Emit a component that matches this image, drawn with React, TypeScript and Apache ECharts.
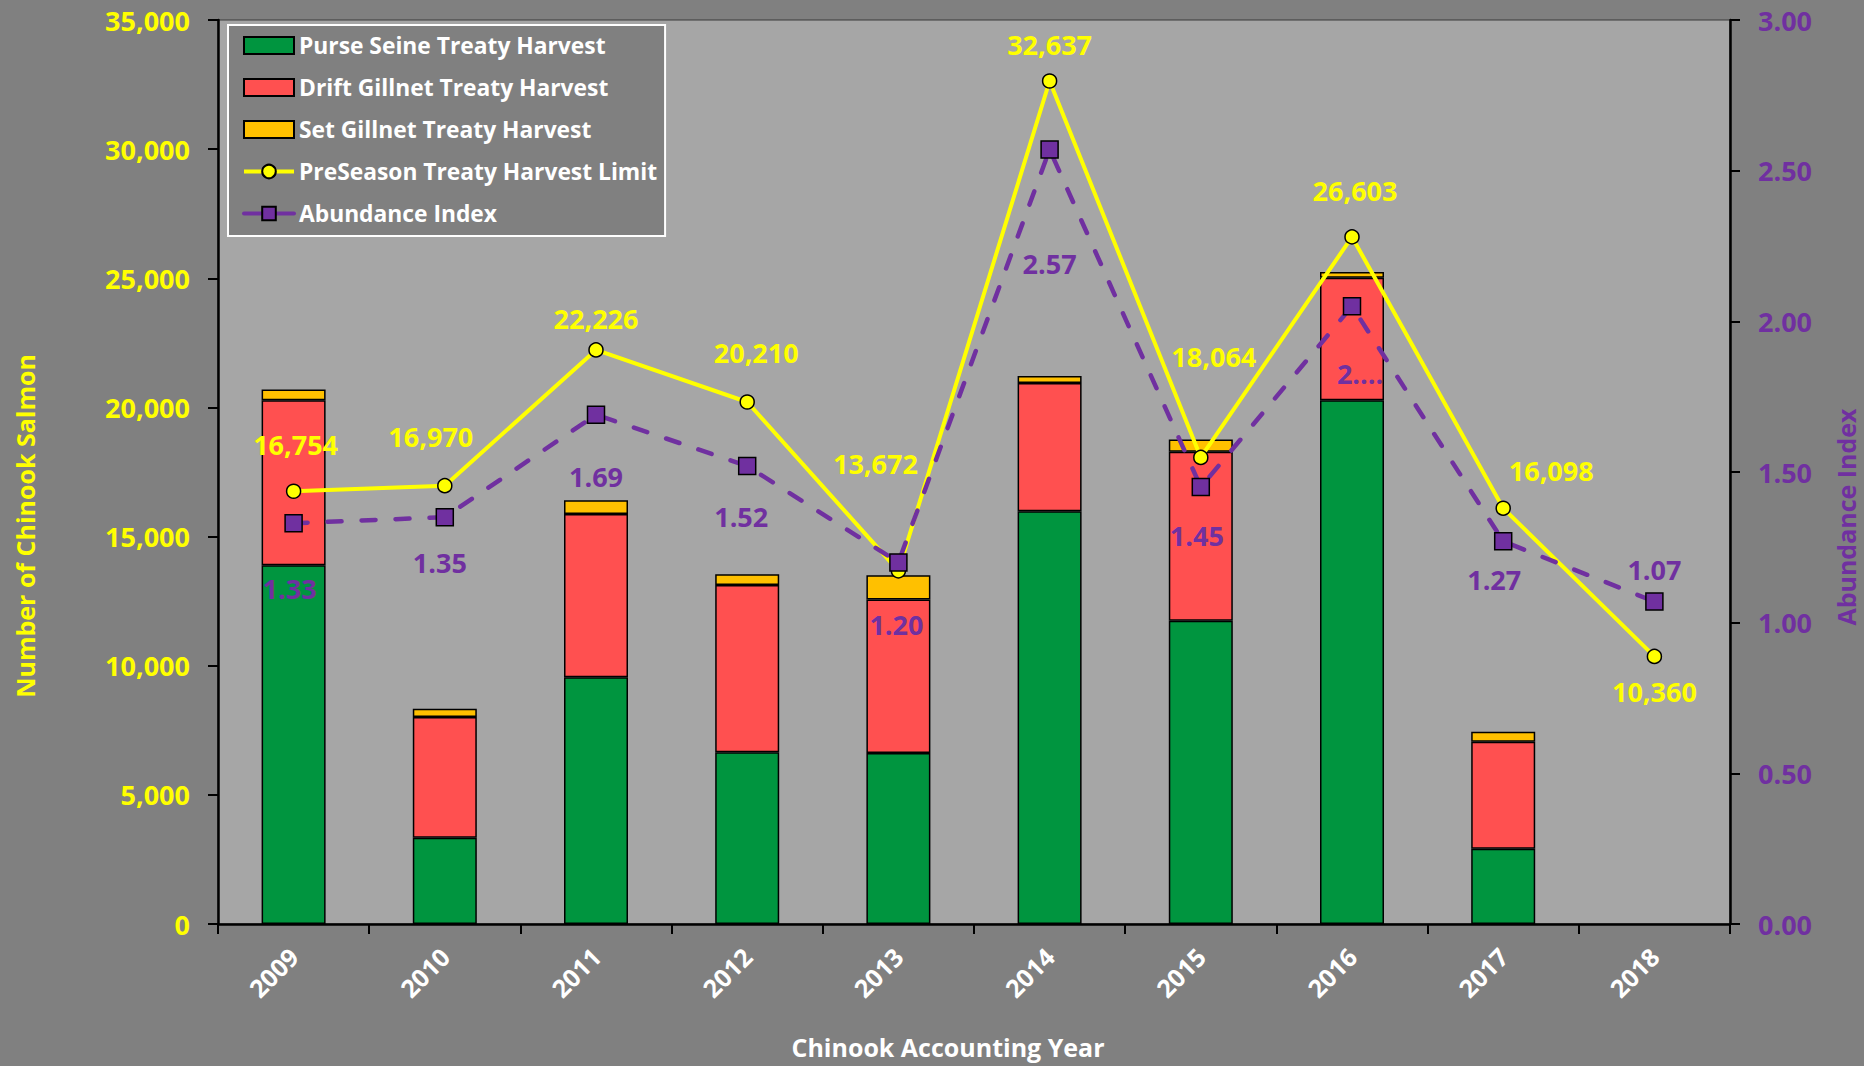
import React, { useEffect, useRef } from 'react';
import * as echarts from 'echarts';

const years = ['2009', '2010', '2011', '2012', '2013', '2014', '2015', '2016', '2017', '2018'];
const purseSeine = [13890, 3340, 9550, 6645, 6620, 15985, 11740, 20280, 2915, null];
const driftGillnet = [6390, 4670, 6320, 6480, 5940, 4965, 6545, 4740, 4140, null];
const setGillnet = [410, 320, 540, 420, 940, 265, 475, 225, 390, null];
const harvestLimit = [16754, 16970, 22226, 20210, 13672, 32637, 18064, 26603, 16098, 10360];
const abundanceIndex = [1.33, 1.35, 1.69, 1.52, 1.2, 2.57, 1.45, 2.05, 1.27, 1.07];
const abundanceLabels = ['1.33', '1.35', '1.69', '1.52', '1.20', '2.57', '1.45', '2....', '1.27', '1.07'];
const leftTicks = { min: 0, max: 35000, interval: 5000 };
const rightTicks = { min: 0, max: 3, interval: 0.5 };

// label offsets (style only)
const limitLabelOffsets = [[2, -47], [-14, -49], [0, -31], [9, -50], [-23, -107], [0, -37], [13, -101], [3, -46], [48, -38], [0, 35]];
const abundanceLabelOffsets = [[-4, 65], [-5, 45], [0, 62], [-6, 51], [-2, 62], [0, 114], [-4, 48], [8, 67], [-9, 38], [0, -32]];

const FONT = "'Open Sans', sans-serif";
const GREEN = '#00953f';
const RED = '#ff5050';
const GOLD = '#ffc000';
const YELLOW = '#ffff00';
const PURPLE = '#7030a0';

export default function App() {
  const ref = useRef<HTMLDivElement>(null);
  useEffect(() => {
    const chart = echarts.init(ref.current as HTMLDivElement, null, { renderer: 'svg' });
    const barStyle = (c: string) => ({ color: c, borderColor: '#000', borderWidth: 1.5 });
    const option: any = {
      animation: false,
      backgroundColor: '#808080',
      textStyle: { fontFamily: FONT },
      grid: {
        left: 218,
        right: 134,
        top: 20,
        bottom: 142,
        show: true,
        backgroundColor: '#a6a6a6',
        borderColor: '#3a3a3a',
        borderWidth: 1,
      },
      legend: {
        orient: 'vertical',
        left: 228,
        top: 25,
        backgroundColor: '#808080',
        borderColor: '#ffffff',
        borderWidth: 2,
        padding: [8, 8, 10, 14],
        itemWidth: 50,
        itemHeight: 17,
        itemGap: 17,
        textStyle: { color: '#ffffff', fontSize: 22.8, fontWeight: 'bold', fontFamily: FONT, lineHeight: 25 },
        data: [
          { name: 'Purse Seine Treaty Harvest', icon: 'rect' },
          { name: 'Drift Gillnet Treaty Harvest', icon: 'rect' },
          { name: 'Set Gillnet Treaty Harvest', icon: 'rect' },
          { name: 'PreSeason Treaty Harvest Limit', lineStyle: { width: 4, color: YELLOW } },
          { name: 'Abundance Index', lineStyle: { width: 4, color: PURPLE, type: 'solid' } },
        ],
      },
      xAxis: {
        type: 'category',
        data: years,
        axisLine: { lineStyle: { color: '#000', width: 2.5 } },
        axisTick: { show: true, length: 10, lineStyle: { color: '#000', width: 2 } },
        axisLabel: { color: '#ffffff', fontSize: 25, fontWeight: 'bold', fontFamily: FONT, rotate: 45, margin: 28 },
        splitLine: { show: false },
      },
      yAxis: [
        {
          type: 'value',
          min: leftTicks.min,
          max: leftTicks.max,
          interval: leftTicks.interval,
          axisLine: { show: true, lineStyle: { color: '#000', width: 2.5 } },
          axisTick: { show: true, length: 10, lineStyle: { color: '#000', width: 2 } },
          axisLabel: {
            color: YELLOW,
            fontSize: 27,
            fontWeight: 'bold',
            fontFamily: FONT,
            margin: 28,
            formatter: (v: number) => v.toLocaleString('en-US'),
          },
          splitLine: { show: false },
        },
        {
          type: 'value',
          min: rightTicks.min,
          max: rightTicks.max,
          interval: rightTicks.interval,
          position: 'right',
          axisLine: { show: true, lineStyle: { color: '#000', width: 2.5 } },
          axisTick: { show: true, length: 10, lineStyle: { color: '#000', width: 2 } },
          axisLabel: {
            color: PURPLE,
            fontSize: 27,
            fontWeight: 'bold',
            fontFamily: FONT,
            margin: 28,
            formatter: (v: number) => v.toFixed(2),
          },
          splitLine: { show: false },
        },
      ],
      series: [
        { name: 'Purse Seine Treaty Harvest', type: 'bar', stack: 'harvest', barWidth: 64, data: purseSeine, itemStyle: barStyle(GREEN) },
        { name: 'Drift Gillnet Treaty Harvest', type: 'bar', stack: 'harvest', barWidth: 64, data: driftGillnet, itemStyle: barStyle(RED) },
        { name: 'Set Gillnet Treaty Harvest', type: 'bar', stack: 'harvest', barWidth: 64, data: setGillnet, itemStyle: barStyle(GOLD) },
        {
          name: 'PreSeason Treaty Harvest Limit',
          type: 'line',
          yAxisIndex: 0,
          symbol: 'circle',
          symbolSize: 14,
          lineStyle: { color: YELLOW, width: 4 },
          itemStyle: { color: YELLOW, borderColor: '#000', borderWidth: 1.5 },
          data: harvestLimit.map((v, i) => ({ value: v, label: { offset: limitLabelOffsets[i] } })),
          label: {
            show: true,
            position: 'inside',
            color: YELLOW,
            fontSize: 27,
            fontWeight: 'bold',
            fontFamily: FONT,
            formatter: (p: any) => Number(p.value).toLocaleString('en-US'),
          },
          z: 5,
        },
        {
          name: 'Abundance Index',
          type: 'line',
          yAxisIndex: 1,
          symbol: 'rect',
          symbolSize: 17,
          lineStyle: { color: PURPLE, width: 4.5, type: [14, 20], cap: 'round' },
          itemStyle: { color: PURPLE, borderColor: '#000', borderWidth: 1.5 },
          data: abundanceIndex.map((v, i) => ({ value: v, label: { offset: abundanceLabelOffsets[i] } })),
          label: {
            show: true,
            position: 'inside',
            color: PURPLE,
            fontSize: 27,
            fontWeight: 'bold',
            fontFamily: FONT,
            formatter: (p: any) => abundanceLabels[p.dataIndex],
          },
          z: 6,
        },
      ],
      graphic: [
        {
          type: 'text',
          x: 25,
          y: 526,
          rotation: Math.PI / 2,
          style: { text: 'Number of Chinook Salmon', fill: YELLOW, font: `bold 25px ${FONT}`, align: 'center', verticalAlign: 'middle' },
        },
        {
          type: 'text',
          x: 1846,
          y: 517,
          rotation: Math.PI / 2,
          style: { text: 'Abundance Index', fill: PURPLE, font: `bold 25px ${FONT}`, align: 'center', verticalAlign: 'middle' },
        },
        {
          type: 'text',
          x: 948,
          y: 1047,
          style: { text: 'Chinook Accounting Year', fill: '#ffffff', font: `bold 25px ${FONT}`, align: 'center', verticalAlign: 'middle' },
        },
      ],
    };
    chart.setOption(option);
    return () => chart.dispose();
  }, []);
  return <div ref={ref} style={{ position: 'absolute', left: 0, top: 0, width: 1864, height: 1066 }} />;
}
